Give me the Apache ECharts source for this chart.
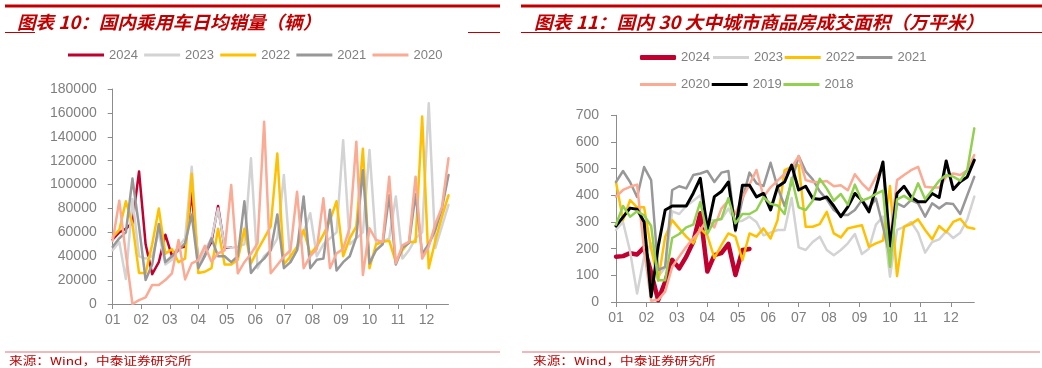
<!DOCTYPE html>
<html><head><meta charset="utf-8">
<script src="https://cdn.jsdelivr.net/npm/echarts@6/dist/echarts.min.js"></script>
<style>html,body{margin:0;padding:0;background:#fff}#c{width:1042px;height:368px}</style>
</head><body><div id="c"></div>
<script>
// ---------- shared ----------
const monthLabels = ['01','02','03','04','05','06','07','08','09','10','11','12'];
const weeksPerYear = 52;

// ---------- left chart: 国内乘用车日均销量（辆），weekly ----------
const carTitle = '图表 10：国内乘用车日均销量（辆）';
const carYMax = 180000, carYStep = 20000;
const car2024 = [54000,60000,63000,68000,111000,50000,25000,35000,58000,40000,47000,48000,93000,35000,42000,52000,82000,47000,47000];
const car2023 = [45000,52000,21000,88000,40000,38000,40000,60000,33000,37000,48000,55000,115000,33000,45000,55000,80000,48000,47000,48000,50000,122000,30000,40000,45000,55000,108000,35000,45000,60000,76000,40000,50000,55000,60000,137000,50000,55000,60000,129000,50000,52000,55000,90000,38000,45000,55000,60000,168000,47000,65000,83000];
const car2022 = [56000,62000,86000,67000,26000,26000,50000,80000,42000,46000,35000,38000,109000,26000,27000,30000,63000,33000,33000,37000,63000,34000,45000,55000,65000,126000,33000,40000,48000,62000,42000,48000,58000,70000,86000,40000,55000,65000,130000,30000,50000,52000,53000,35000,45000,52000,52000,157000,30000,53000,73000,91000];
const car2021 = [48000,55000,60000,105000,65000,20000,33000,67000,35000,40000,45000,51000,75000,30000,40000,55000,40000,40000,35000,40000,86000,26000,33000,38000,45000,75000,30000,35000,45000,90000,30000,37000,38000,79000,28000,35000,40000,56000,112000,34000,45000,50000,91000,33000,47000,51000,92000,42000,50000,62000,80000,108000];
const car2020 = [53000,86500,42000,0,3300,5600,16000,16000,20000,25700,53600,20600,34000,36800,48800,35400,42400,45000,99600,25700,35000,42000,51000,152600,25700,32600,39600,45000,94000,30000,40000,46000,88500,30000,42400,46000,64000,135900,24300,63400,53600,52000,106600,34000,49000,52000,106600,38000,48000,67000,81000,122000];

// ---------- right chart: 30大中城市商品房成交面积（万平米），weekly ----------
const houseTitle = '图表 11：国内 30 大中城市商品房成交面积（万平米）';
const houseYMax = 700, houseYStep = 100;
const house2024 = [170,172,183,178,205,110,7,76,158,126,170,226,333,114,176,183,218,101,195,199];
const house2023 = [270,300,190,32,170,220,95,130,340,330,360,380,400,310,305,310,350,300,305,320,300,250,260,270,270,390,205,195,225,245,195,175,195,220,255,180,200,290,320,95,270,282,300,260,185,225,235,265,240,260,310,395];
const house2022 = [450,307,382,355,355,200,80,245,307,275,245,220,275,250,165,213,257,245,157,257,245,276,238,307,494,507,513,282,282,292,338,257,242,276,282,288,207,220,230,435,97,282,292,310,270,235,285,262,300,312,280,275];
const house2021 = [450,491,450,394,506,457,120,132,420,434,426,476,482,491,450,485,491,265,385,485,445,435,522,430,360,450,547,490,460,415,385,345,326,326,345,382,351,388,282,170,370,357,382,370,320,370,351,370,367,330,400,469];
const house2020 = [395,420,432,440,195,5,8,39,132,170,207,239,270,310,280,350,380,330,390,440,495,395,430,455,480,505,547,457,450,450,454,434,438,419,479,445,419,469,507,232,457,476,494,507,432,429,429,469,482,476,494,551];
const house2019 = [285,318,352,348,300,20,207,345,360,360,360,408,464,270,395,414,450,270,438,438,394,407,345,432,450,513,420,434,388,385,394,360,320,357,407,382,338,426,525,210,407,434,394,376,376,407,392,529,422,451,469,532];
const house2018 = [290,360,320,340,325,285,82,82,240,255,280,290,375,255,305,312,390,295,330,330,345,393,368,362,330,465,355,345,380,462,425,380,405,365,440,380,390,405,418,132,385,398,380,445,385,420,455,476,470,455,495,651];

const sourceText = '来源：Wind，中泰证券研究所';

// ---------- styling ----------
const colors = {'2024':'#C0002F','2023':'#D3D3D3','2022':'#FFC000','2021':'#989898','2020':'#FBAA94','2019':'#000000','2018':'#92D050'};
const RED = '#C00000';
const AXIS = '#8C8C8C';
const LABEL = '#7F7F7F';
const monthPos = monthLabels.map((m, k) => k * weeksPerYear / 12);
const pts = arr => arr.map((v, i) => [i, v]);

function xAxisCfg(gridIndex) {
  return {
    type: 'value', gridIndex, min: 0, max: weeksPerYear - 1, interval: weeksPerYear / 12,
    axisLine: {show: true, lineStyle: {color: AXIS, width: 1}},
    axisTick: {show: true, length: 5, lineStyle: {color: AXIS}, customValues: monthPos},
    axisLabel: {color: LABEL, fontSize: 14, fontFamily: '"Liberation Sans Narrow","Liberation Sans",Arial', margin: 9,
      customValues: monthPos,
      formatter: v => monthLabels[Math.round(v * 12 / weeksPerYear)] || ''},
    splitLine: {show: false}
  };
}
function yAxisCfg(gridIndex, max, step, margin) {
  return {
    type: 'value', gridIndex, min: 0, max, interval: step,
    axisLine: {show: true, lineStyle: {color: AXIS, width: 1}},
    axisTick: {show: true, length: 5, lineStyle: {color: AXIS}},
    axisLabel: {color: LABEL, fontSize: 14, fontFamily: '"Liberation Sans",Arial', margin, formatter: v => String(v)},
    splitLine: {show: false}
  };
}
function line(name, data, idx, width) {
  return {
    name, type: 'line', data: pts(data), xAxisIndex: idx, yAxisIndex: idx,
    symbol: 'none', smooth: false, silent: true,
    lineStyle: {color: colors[name], width, cap: 'round', join: 'round'},
    itemStyle: {color: colors[name]}
  };
}

const series = [
  line('2024', car2024, 0, 2.5),
  line('2023', car2023, 0, 2.5),
  line('2022', car2022, 0, 2.5),
  line('2021', car2021, 0, 2.5),
  line('2020', car2020, 0, 2.5),
  line('2024', house2024, 1, 4.5),
  line('2023', house2023, 1, 2.5),
  line('2022', house2022, 1, 2.5),
  line('2021', house2021, 1, 2.5),
  line('2020', house2020, 1, 2.5),
  line('2019', house2019, 1, 3),
  line('2018', house2018, 1, 2.5)
];

const legendText = {color: LABEL, fontSize: 13, fontFamily: '"Liberation Sans",Arial'};
function legend(names, left, top, gap, h) {
  return {data: names, left, top, orient: 'horizontal', padding: 0, itemGap: gap,
    itemWidth: 36, itemHeight: h || 3, icon: h > 3 ? 'roundRect' : 'rect',
    textStyle: legendText, selectedMode: false};
}

const titleFont = 'italic bold 18px "Noto Sans CJK SC", sans-serif';
const graphic = [
  {type: 'line', shape: {x1: 5, y1: 6, x2: 500, y2: 6}, style: {stroke: RED, lineWidth: 3}},
  {type: 'line', shape: {x1: 521, y1: 6, x2: 1042, y2: 6}, style: {stroke: RED, lineWidth: 3}},
  {type: 'line', shape: {x1: 5, y1: 32.5, x2: 35, y2: 32.5}, style: {stroke: RED, lineWidth: 1}},
  {type: 'line', shape: {x1: 468, y1: 32.5, x2: 500, y2: 32.5}, style: {stroke: RED, lineWidth: 1}},
  {type: 'line', shape: {x1: 521, y1: 32.5, x2: 1042, y2: 32.5}, style: {stroke: RED, lineWidth: 1}},
  {type: 'line', shape: {x1: 5, y1: 352, x2: 500, y2: 352}, style: {stroke: '#F0B8BA', lineWidth: 2}},
  {type: 'line', shape: {x1: 522, y1: 352, x2: 1040, y2: 352}, style: {stroke: '#F0B8BA', lineWidth: 2}},
  {type: 'text', x: 17, y: 22, scaleX: 1.03, style: {text: carTitle, font: titleFont, fill: RED, verticalAlign: 'middle', align: 'left'}},
  {type: 'text', x: 534, y: 22, scaleX: 1.04, style: {text: houseTitle, font: titleFont, fill: RED, verticalAlign: 'middle', align: 'left'}},
  {type: 'text', x: 9, y: 361, scaleX: 1.24, style: {text: sourceText, font: '11px "Noto Sans CJK SC", sans-serif', fill: RED, verticalAlign: 'middle', align: 'left'}},
  {type: 'text', x: 533, y: 361, scaleX: 1.24, style: {text: sourceText, font: '11px "Noto Sans CJK SC", sans-serif', fill: RED, verticalAlign: 'middle', align: 'left'}}
];

const chart = echarts.init(document.getElementById('c'), null, {renderer: 'canvas'});
chart.setOption({
  animation: false,
  backgroundColor: '#ffffff',
  grid: [
    {left: 112.7, right: 1042 - 448.5, top: 89, bottom: 368 - 304},
    {left: 616, right: 1042 - 974.3, top: 115.3, bottom: 368 - 302}
  ],
  xAxis: [xAxisCfg(0), xAxisCfg(1)],
  yAxis: [yAxisCfg(0, carYMax, carYStep, 16), yAxisCfg(1, houseYMax, houseYStep, 17)],
  legend: [
    legend(['2024','2023','2022','2021','2020'], 68, 48.5, 6.2, 3),
    legend(['2024'], 640, 51, 2, 5),
    legend(['2023','2022','2021'], 713, 51, 1.8, 3),
    legend(['2020','2019','2018'], 640, 78, 1.8, 3)
  ],
  graphic,
  series
});
</script></body></html>
